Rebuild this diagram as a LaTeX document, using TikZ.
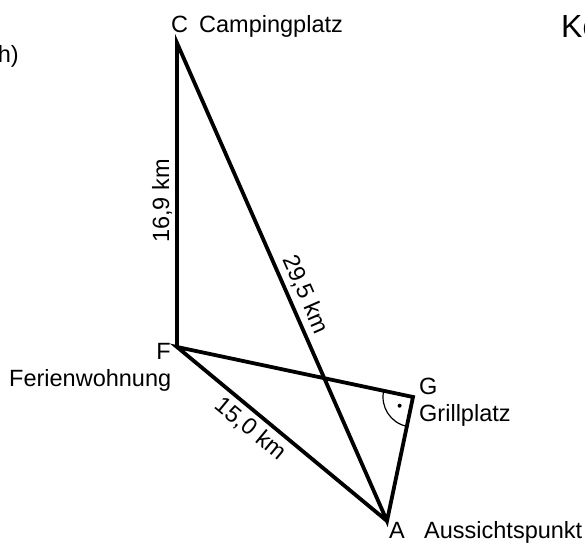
\documentclass[tikz,border=0pt]{standalone}
\usepackage{fontspec}
\setmainfont{Liberation Sans}
\usetikzlibrary{positioning,calc}

\begin{document}
\begin{tikzpicture}[
    x=1bp, y=1bp,
    font=\fontsize{23.5bp}{27bp}\selectfont,
    side/.style={line width=3.8bp, line join=miter},
    lbl/.style={inner sep=0pt, anchor=base west},
    dist/.style={inner sep=4.5bp, sloped},
    rightmark/.style={line width=1.2bp}
  ]
    \useasboundingbox (0,0) rectangle (585,543);
    \coordinate (C) at (177,500);
    \coordinate (F) at (177,196);
    \coordinate (G) at (413,146);
    \coordinate (A) at (387,22);
    \draw[side] (F) -- node[dist, above, pos=0.48, inner sep=3bp] {16,9 km} (C)
                    -- node[dist, above, pos=0.54] {29,5 km} (A)
                    -- (G) -- (F)
                    -- node[dist, below, pos=0.40] {15,0 km} (A);
    \draw[rightmark] ($(G)+(168:30)$) arc[start angle=168, end angle=258, radius=30];
    \fill ($(G)+(213:16)$) circle (2bp);
    \node[lbl] (cC) at (171,510) {C};
    \node[lbl] (cCamp) at (199,510) {Campingplatz};
    \node[lbl, anchor=base east] (cF) at (171,183) {F};
    \node[lbl] (cFerien) at (9,156) {Ferienwohnung};
    \node[lbl] (cG) at (419,148) {G};
    \node[lbl] (cGrill) at (419,121) {Grillplatz};
    \node[lbl] (cA) at (389,4) {A};
    \node[lbl] (cAuss) at (424,4) {Aussichtspunkt};
    \node[lbl, anchor=base east] (part) at (19,480) {h)};
    \node[lbl, font=\fontsize{32bp}{36bp}\selectfont] (head) at (561,505) {Ko};
\end{tikzpicture}
\end{document}
